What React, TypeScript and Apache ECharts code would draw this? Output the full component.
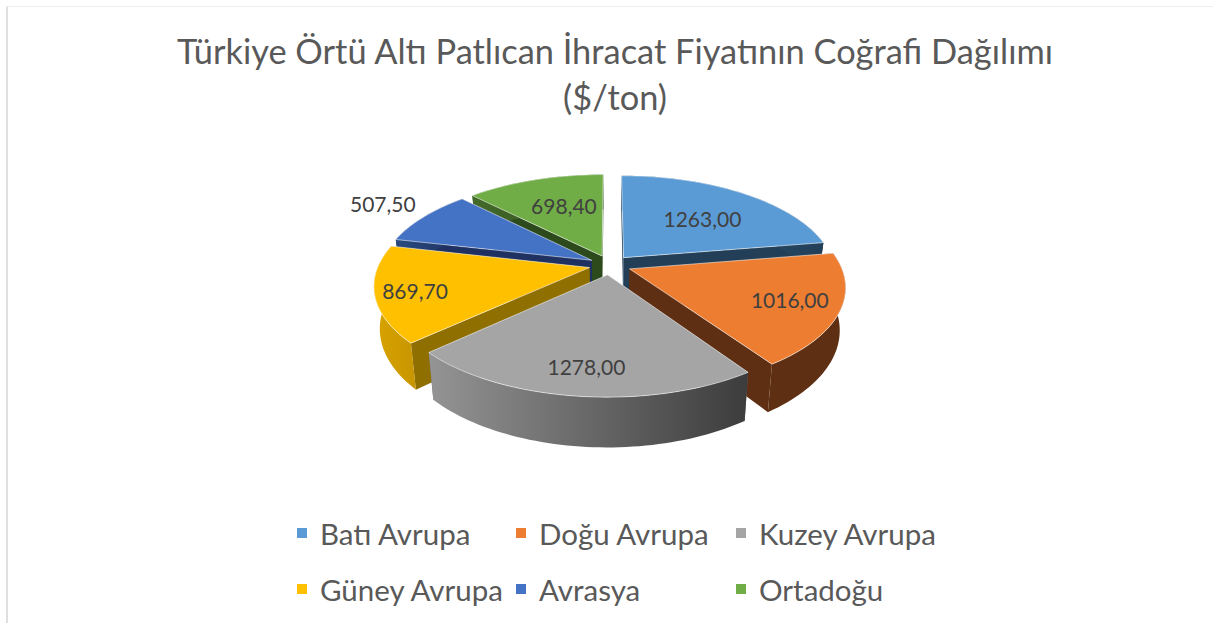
import React, { useEffect, useRef } from "react";
import * as echarts from "echarts";

const TITLE = "Türkiye Örtü Altı Patlıcan İhracat Fiyatının Coğrafi Dağılımı\n($/ton)";
const CATEGORIES = ["Batı Avrupa", "Doğu Avrupa", "Kuzey Avrupa", "Güney Avrupa", "Avrasya", "Ortadoğu"];
const VALUES = [1263, 1016, 1278, 869.7, 507.5, 698.4];
const LABELS = ["1263,00", "1016,00", "1278,00", "869,70", "507,50", "698,40"];
const COLORS = ["#5b9bd5", "#ed7d31", "#a5a5a5", "#ffc000", "#4472c4", "#70ad47"];
const SIDE_COLORS = ["#223f57", "#5e2f12", "#6e6e6e", "#8f6f00", "#1f3160", "#2c4a1b"];
const RIM_LEFT = ["#2f5a80", "#5e2f12", "#949494", "#d8a400", "#294a80", "#446a2a"];
const RIM_RIGHT = ["#223f57", "#5e2f12", "#3c3c3c", "#c79500", "#1f3160", "#2c4a1b"];
const PAINT_Z = [3, 5, 7, 6, 4, 2];
const LABEL_R = [0.605, 0.77, 0.79, 0.82, 1.29, 0.62];
const LABEL_DA = [2.5, -1, -0.4, -1, 1, 3];
const LEGEND_X = [297, 516, 736, 297, 516, 736];
const LEGEND_Y = [518, 518, 518, 574, 574, 574];

const FONT = "Lato";
const CX = 610, CY = 265, A = 211, B = 98, P = 0.168, DEPTH = 41, SHRINK = 0.975, EXPLODE = 0.1;
const RAD = Math.PI / 180;
const TOTAL = VALUES.reduce((s, v) => s + v, 0);

const project = (X: number, Y: number, low = false) => {
  const w = 1 + P * Y;
  let sx = CX + (A * X) / w;
  let sy = CY - (B * Y) / w;
  if (low) {
    sx = CX + (sx - CX) * SHRINK;
    sy += DEPTH / w;
  }
  return [sx, sy];
};

const makeRender = (index: number) => (_params: any, api: any) => {
  const value = api.value(0);
  const before = VALUES.slice(0, index).reduce((s, v) => s + v, 0);
  const start = (before / TOTAL) * 360;
  const end = start + (value / TOTAL) * 360;
  const mid = (start + end) / 2;
  const ex = EXPLODE * Math.sin(mid * RAD);
  const ey = EXPLODE * Math.cos(mid * RAD);
  const at = (deg: number, low = false, r = 1) =>
    project(ex + r * Math.sin(deg * RAD), ey + r * Math.cos(deg * RAD), low);
  const arc: number[] = [];
  for (let t = start; t < end; t += 1.5) arc.push(t);
  arc.push(end);
  const apexTop = project(ex, ey);
  const apexLow = project(ex, ey, true);
  const topPts = [apexTop, ...arc.map((t) => at(t))];
  const rimPts = [...arc.map((t) => at(t)), ...arc.slice().reverse().map((t) => at(t, true))];
  const wall = (t: number) => [apexTop, at(t), at(t, true), apexLow];
  const edge = "rgba(255,255,255,0.55)";
  const ld = mid + LABEL_DA[index];
  const labelPos = project(ex + LABEL_R[index] * Math.sin(ld * RAD), ey + LABEL_R[index] * Math.cos(ld * RAD));
  return {
    type: "group",
    children: [
      { type: "polygon", shape: { points: wall(start) }, style: { fill: SIDE_COLORS[index] } },
      { type: "polygon", shape: { points: wall(end) }, style: { fill: SIDE_COLORS[index] } },
      {
        type: "polygon",
        shape: { points: rimPts },
        style: {
          fill: new echarts.graphic.LinearGradient(0, 0, 1, 0, [
            { offset: 0, color: RIM_LEFT[index] },
            { offset: 1, color: RIM_RIGHT[index] },
          ]),
        },
      },
      {
        type: "polygon",
        shape: { points: topPts },
        style: { fill: COLORS[index], stroke: edge, lineWidth: 1 },
      },
      {
        type: "text",
        x: labelPos[0],
        y: labelPos[1],
        z2: 10,
        style: {
          text: LABELS[index],
          fill: "#404040",
          font: `21px ${FONT}`,
          textAlign: "center",
          textVerticalAlign: "middle",
        },
      },
    ],
  };
};

export default function App() {
  const ref = useRef<HTMLDivElement>(null);
  useEffect(() => {
    const chart = echarts.init(ref.current!, null, { renderer: "svg" });
    chart.setOption({
      animation: false,
      backgroundColor: "#ffffff",
      title: {
        text: TITLE,
        left: 610,
        top: 22,
        textAlign: "center",
        textStyle: { fontFamily: FONT, fontSize: 34.4, fontWeight: "normal", color: "#595959", lineHeight: 46 },
      },
      legend: CATEGORIES.map((name, i) => ({
        data: [name],
        left: LEGEND_X[i],
        top: LEGEND_Y[i],
        padding: 0,
        icon: "rect",
        itemWidth: 10,
        itemHeight: 10,
        itemGap: 13,
        selectedMode: false,
        textStyle: { fontFamily: FONT, fontSize: 29.5, color: "#595959", padding: [0, 0, 0, 8] },
      })),
      graphic: [
        { type: "rect", shape: { x: 6, y: 6, width: 2, height: 617 }, style: { fill: "#e0e0e0" } },
        { type: "rect", shape: { x: 6, y: 6, width: 1207, height: 1 }, style: { fill: "#eeeeee" } },
      ],
      series: CATEGORIES.map((name, i) => ({
        type: "custom",
        name,
        coordinateSystem: "none",
        z: PAINT_Z[i],
        itemStyle: { color: COLORS[i] },
        data: [[VALUES[i]]],
        renderItem: makeRender(i),
      })),
    });
    return () => chart.dispose();
  }, []);
  return <div ref={ref} style={{ position: "fixed", left: 0, top: 0, width: 1213, height: 623 }} />;
}
